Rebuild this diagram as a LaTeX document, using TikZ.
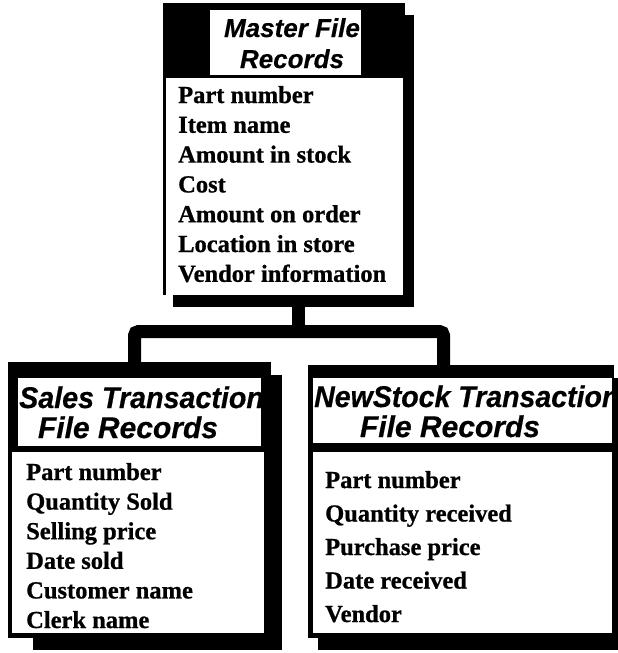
\documentclass[tikz,border=0pt]{standalone}
\usepackage{fontspec}
\setmainfont{Liberation Serif}[BoldFeatures={FakeBold=0.8}]
\newfontfamily\titlefont{Liberation Sans}[BoldItalicFeatures={FakeBold=0.5}]
\usetikzlibrary{fit}
\begin{document}
\begin{tikzpicture}[x=1pt,y=-1pt,
  blackbox/.style={fill=black,draw=none,inner sep=0pt},
  whitebox/.style={fill=white,draw=none,inner sep=0pt},
  mtitle/.style={font=\titlefont\bfseries\itshape\fontsize{26}{30}\selectfont,inner sep=0pt,anchor=base},
  ctitle/.style={font=\titlefont\bfseries\itshape\fontsize{30}{34}\selectfont,inner sep=0pt},
  bodytext/.style={font=\bfseries\fontsize{24.5}{29}\selectfont,inner sep=0pt,anchor=base west},
  conn/.style={line width=13pt,draw=black,rounded corners=4pt}]
\useasboundingbox (0,0) rectangle (618,653);
\fill[white] (0,0) rectangle (618,653);

% ---------- Master ----------
\node[blackbox,fit={(173,15)(414,307)}] (mshadow) {};
\node[blackbox,fit={(163,3)(405,295)}] (master) {};
\node[whitebox,fit={(210,10)(361,75)}] (mtitlebox) {};
\node[whitebox,fit={(166,78)(403,295)}] (mbody) {};
\node[mtitle] (mt1) at (292,37) {Master File};
\node[mtitle] (mt2) at (292,68) {Records};
\foreach \t [count=\i] in {Part number,Item name,Amount in stock,Cost,Amount on order,Location in store,Vendor information}
  \node[bodytext] (m\i) at (178,{103+29.8*(\i-1)}) {\t};

% ---------- Sales ----------
\node[blackbox,fit={(33,375)(282,650)}] (sshadow) {};
\node[blackbox,fit={(8,362)(271,638)}] (sales) {};
\node[whitebox,fit={(18,378)(261,446)}] (stitlebox) {};
\node[whitebox,fit={(12,452)(264,633)}] (sbody) {};
\begin{scope}
\clip (18,378) rectangle (261,446);
\node[ctitle,anchor=base west] (st1) at (19,408) {\scalebox{0.955}[1]{Sales Transaction}};
\node[ctitle,anchor=base] (st2) at (128,438) {File Records};
\end{scope}
\foreach \t [count=\i] in {Part number,Quantity Sold,Selling price,Date sold,Customer name,Clerk name}
  \node[bodytext] (s\i) at (26,{480+29.6*(\i-1)}) {\t};

% ---------- NewStock ----------
\node[blackbox,fit={(318,378)(618,650)}] (nshadow) {};
\node[blackbox,fit={(308,365)(614,638)}] (newstock) {};
\node[whitebox,fit={(313,378)(612,443)}] (ntitlebox) {};
\node[whitebox,fit={(313,452)(612,633)}] (nbody) {};
\begin{scope}
\clip (313,378) rectangle (612,443);
\node[ctitle,anchor=base west] (nt1) at (314,407) {\scalebox{0.95}[1]{NewStock Transaction}};
\node[ctitle,anchor=base] (nt2) at (450,437) {File Records};
\end{scope}
\foreach \t [count=\i] in {Part number,Quantity received,Purchase price,Date received,Vendor}
  \node[bodytext] (n\i) at (325,{488+33.5*(\i-1)}) {\t};

% ---------- Connectors ----------
\coordinate (stem) at (298.5,331.5);
\draw[line width=13pt] ([xshift=5pt]mshadow.south) -- (stem);
\draw[conn] (sales.north -| 134.5,0) -- (134.5,331.5) -- (443.5,331.5) -- (newstock.north -| 443.5,0);
\end{tikzpicture}
\end{document}
